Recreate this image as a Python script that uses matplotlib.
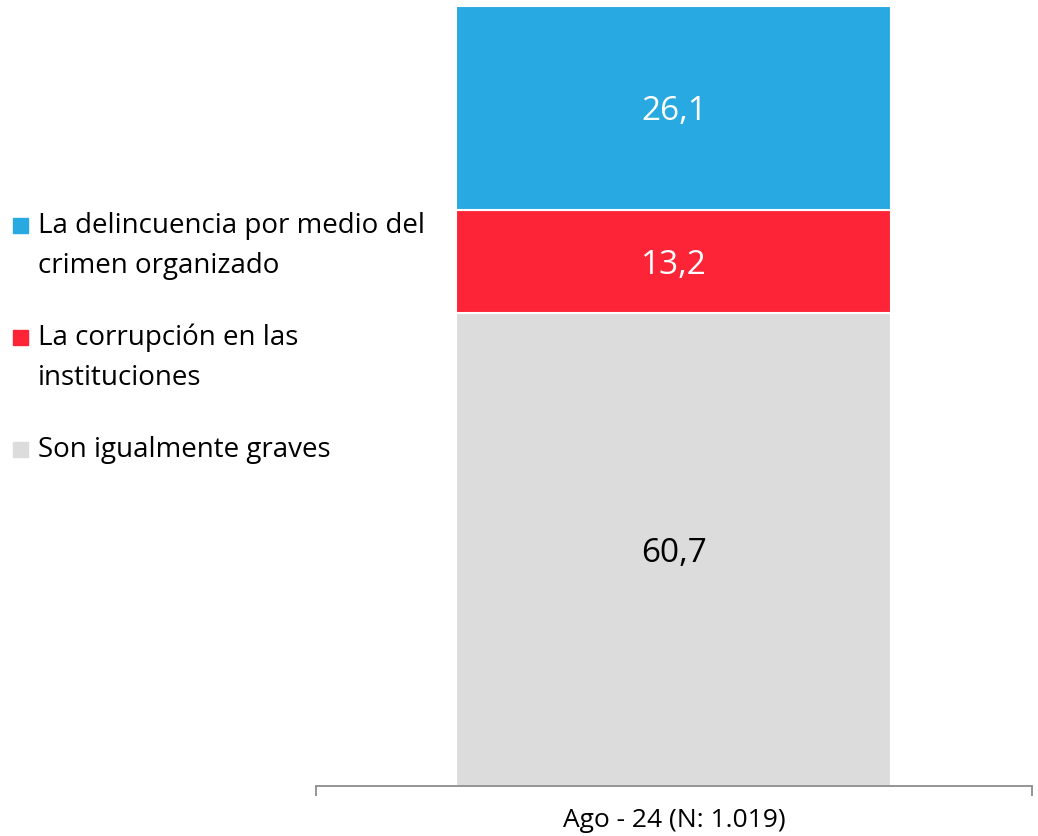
import matplotlib
matplotlib.use("Agg")
import matplotlib.pyplot as plt
from matplotlib.patches import Rectangle
from matplotlib.transforms import offset_copy

# Survey results (percent)
categories = ["Ago - 24 (N: 1.019)"]
series_names = [
    ["La delincuencia por medio del", "crimen organizado"],
    ["La corrupción en las", "instituciones"],
    ["Son igualmente graves"],
]
delincuencia = [26.1]
corrupcion = [13.2]
iguales = [60.7]

colors = ["#29A9E1", "#FC2436", "#DCDCDC"]
label_colors = ["white", "white", "black"]

plt.rcParams["font.family"] = ["Open Sans", "DejaVu Sans"]

fig = plt.figure(figsize=(10.38, 8.36), dpi=100)
ax = fig.add_axes([0.3044, 0.0598, 0.6898, 0.933])

x = list(range(len(categories)))
# stack from bottom: igualmente graves, corrupcion, delincuencia
stack = [(iguales, colors[2], label_colors[2]),
         (corrupcion, colors[1], label_colors[1]),
         (delincuencia, colors[0], label_colors[0])]
label_tf = offset_copy(ax.transData, fig=fig, x=0, y=-3, units="points")
bottom = [0.0] * len(categories)
for vals, col, lcol in stack:
    bars = ax.bar(x, vals, width=0.6075, bottom=bottom, color=col,
                  edgecolor="white", linewidth=1.5, zorder=2)
    for b, v, b0 in zip(bars, vals, bottom):
        ax.text(b.get_x() + b.get_width() / 2, b0 + v / 2,
                f"{v:.1f}".replace(".", ","), ha="center", va="center",
                color=lcol, fontsize=24, transform=label_tf)
    bottom = [b0 + v for b0, v in zip(bottom, vals)]

ax.set_xlim(-0.5, len(categories) - 0.5)
ax.set_ylim(0, 100)
for s in ["top", "right", "left"]:
    ax.spines[s].set_visible(False)
ax.spines["bottom"].set_color("#8C8C8C")
ax.spines["bottom"].set_linewidth(1.3)
ax.set_yticks([])
ax.set_xticks(x)
ax.set_xticklabels(categories, fontsize=19)
ax.tick_params(axis="x", which="major", length=0, pad=16)
ax.set_xticks([-0.5, len(categories) - 0.5], minor=True)
ax.tick_params(axis="x", which="minor", length=7, width=1.3, color="#8C8C8C")

# Legend drawn at the left side
W, H = 1038, 836
first_baselines = [233, 345, 457]
line_gap = 40
for lines, col, base in zip(series_names, colors, first_baselines):
    fig.patches.append(Rectangle((13 / W, 1 - base / H), 15 / W, 15 / H,
                                 transform=fig.transFigure, color=col))
    for i, line in enumerate(lines):
        fig.text(38 / W, 1 - (base + i * line_gap) / H, line,
                 ha="left", va="baseline", fontsize=20)

fig.savefig("out.png", dpi=100)
